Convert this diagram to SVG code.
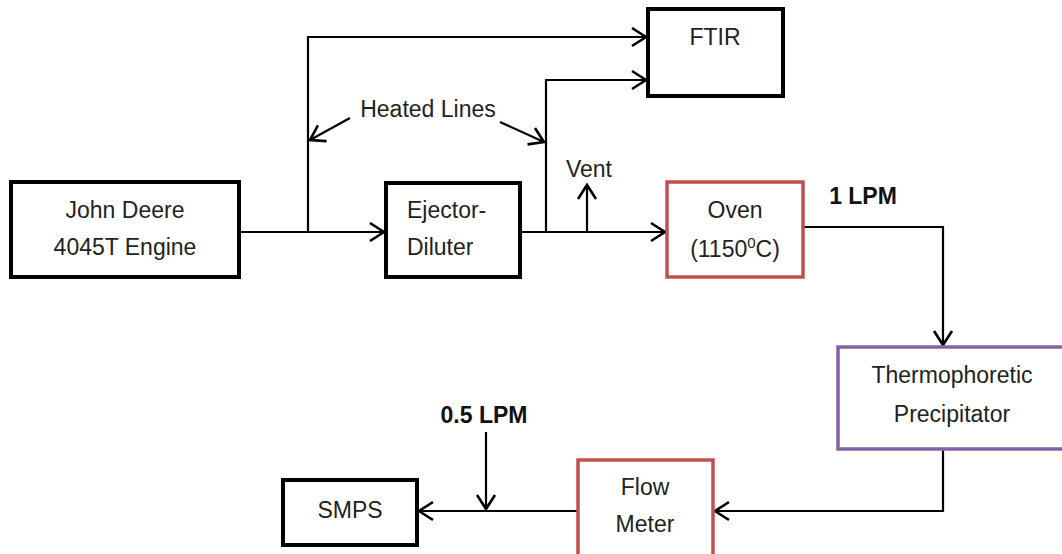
<svg xmlns="http://www.w3.org/2000/svg" width="1062" height="554" viewBox="0 0 1062 554">
<style>
.box{fill:#fff;stroke:#000;stroke-width:4}
.red{fill:#fff;stroke:#c0504d;stroke-width:3.5}
.purple{fill:#fff;stroke:#8064a2;stroke-width:3.5}
.t{font-family:"Liberation Sans",Arial,sans-serif;font-size:23px;fill:#222;text-anchor:middle}
.b{font-weight:bold;fill:#111}
.ln{fill:none;stroke:#000;stroke-width:2.2}
.arr{marker-end:url(#ah)}
</style>
<defs>
<marker id="ah" markerUnits="userSpaceOnUse" markerWidth="20" markerHeight="22" viewBox="-16 -11 18 22" refX="0" refY="0" orient="auto" overflow="visible">
<path d="M-14,-9 L0,0 L-14,9" fill="none" stroke="#000" stroke-width="2.6" stroke-linejoin="miter"/>
</marker>
</defs>
<g id="connectors">
<path class="ln arr" d="M239,232 H384"/>
<path class="ln arr" d="M308,232 V37 H646"/>
<path class="ln arr" d="M546,232 V80 H646"/>
<path class="ln arr" d="M520,232 H665"/>
<path class="ln arr" d="M587,232 V185"/>
<path class="ln arr" d="M803,227 H943 V345"/>
<path class="ln arr" d="M943,449 V511 H715"/>
<path class="ln arr" d="M578,511 H419"/>
<path class="ln arr" d="M486,432 V509"/>
<path class="ln arr" d="M350,118 L310,140"/>
<path class="ln arr" d="M500,122 L544,142" stroke-width="3"/>
</g>
<g id="engine">
<rect class="box" x="11" y="182" width="228" height="95"/>
<text class="t" x="125" y="218">John Deere</text>
<text class="t" x="125" y="255">4045T Engine</text>
</g>
<g id="ftir">
<rect class="box" x="648" y="9" width="135" height="87"/>
<text class="t" x="715" y="45">FTIR</text>
</g>
<g id="heated-lines">
<text class="t" x="428" y="117">Heated Lines</text>
</g>
<g id="ejector">
<rect class="box" x="386" y="183" width="134" height="94"/>
<text class="t" x="407" y="218" style="text-anchor:start">Ejector-</text>
<text class="t" x="407" y="255" style="text-anchor:start">Diluter</text>
</g>
<g id="vent">
<text class="t" x="589" y="177">Vent</text>
</g>
<g id="oven">
<rect class="red" x="667" y="182" width="136" height="95"/>
<text class="t" x="735" y="218">Oven</text>
<text class="t" x="735" y="257">(1150<tspan font-size="15" dy="-9">0</tspan><tspan dy="9">C)</tspan></text>
</g>
<g id="lpm1">
<text class="t b" x="863" y="204">1 LPM</text>
</g>
<g id="thermophoretic">
<rect class="purple" x="838" y="347" width="228" height="102"/>
<text class="t" x="952" y="383">Thermophoretic</text>
<text class="t" x="952" y="422">Precipitator</text>
</g>
<g id="flowmeter">
<rect class="red" x="578" y="460" width="135" height="100"/>
<text class="t" x="645" y="495">Flow</text>
<text class="t" x="645" y="532">Meter</text>
</g>
<g id="lpm05">
<text class="t b" x="484" y="423">0.5 LPM</text>
</g>
<g id="smps">
<rect class="box" x="283" y="480" width="134" height="65"/>
<text class="t" x="350" y="518">SMPS</text>
</g>
</svg>
